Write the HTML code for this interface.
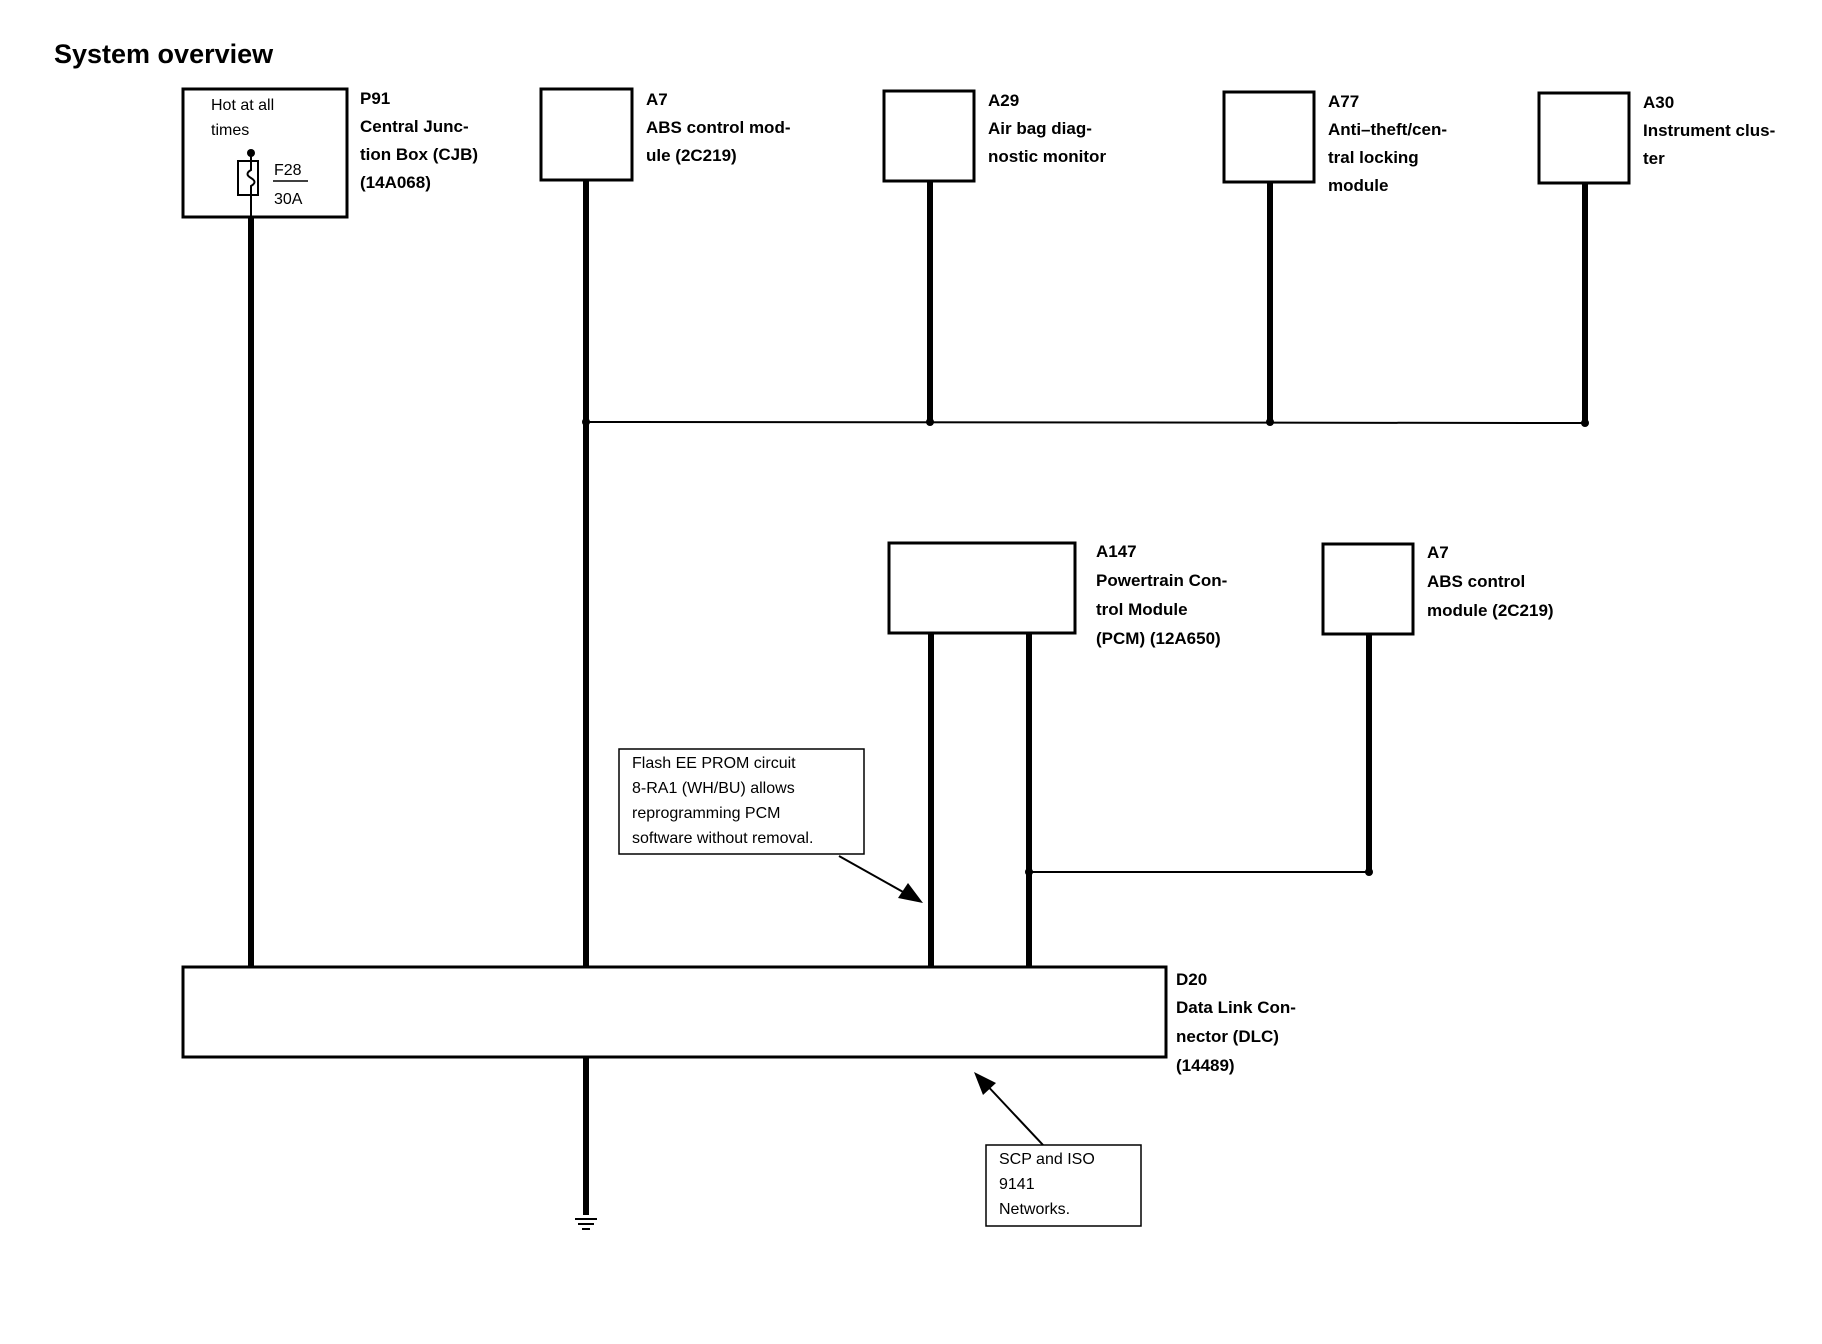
<!DOCTYPE html>
<html><head><meta charset="utf-8"><style>
html,body{margin:0;padding:0;background:#fff;}
svg{display:block;}
text{font-family:"Liberation Sans",Arial,sans-serif;fill:#000;}
.b{font-weight:bold;font-size:17px;}
.n{font-size:16px;}
</style></head><body>
<svg width="1822" height="1344" viewBox="0 0 1822 1344" xmlns="http://www.w3.org/2000/svg">
<text x="54" y="63" style="font-weight:bold;font-size:27px">System overview</text>

<g fill="none" stroke="#000" stroke-width="3">
<rect x="183" y="89" width="164" height="128"/>
<rect x="541" y="89" width="91" height="91"/>
<rect x="884" y="91" width="90" height="90"/>
<rect x="1224" y="92" width="90" height="90"/>
<rect x="1539" y="93" width="90" height="90"/>
<rect x="889" y="543" width="186" height="90"/>
<rect x="1323" y="544" width="90" height="90"/>
<rect x="183" y="967" width="983" height="90"/>
</g>
<g fill="none" stroke="#000" stroke-width="1.5">
<rect x="619" y="749" width="245" height="105"/>
<rect x="986" y="1145" width="155" height="81"/>
</g>

<!-- thick wires -->
<g stroke="#000" stroke-width="6">
<line x1="251" y1="217" x2="251" y2="967"/>
<line x1="586" y1="180" x2="586" y2="967"/>
<line x1="586" y1="1057" x2="586" y2="1215"/>
<line x1="930" y1="181" x2="930" y2="422"/>
<line x1="1270" y1="182" x2="1270" y2="422"/>
<line x1="1585" y1="183" x2="1585" y2="424"/>
<line x1="931" y1="633" x2="931" y2="967"/>
<line x1="1029" y1="633" x2="1029" y2="967"/>
<line x1="1369" y1="634" x2="1369" y2="872"/>
</g>
<g stroke="#000" stroke-width="2">
<line x1="586" y1="422" x2="1585" y2="423"/>
<line x1="1029" y1="872" x2="1369" y2="872"/>
<line x1="839" y1="856" x2="912" y2="897"/>
<line x1="1043" y1="1145" x2="982" y2="1080"/>
<line x1="575" y1="1219" x2="597" y2="1219"/>
<line x1="578" y1="1224" x2="594" y2="1224"/>
<line x1="582" y1="1229" x2="590" y2="1229"/>
</g>
<g fill="#000">
<circle cx="586" cy="422" r="4"/><circle cx="930" cy="422" r="4"/>
<circle cx="1270" cy="422" r="4"/><circle cx="1585" cy="423" r="4"/>
<circle cx="1029" cy="872" r="4"/><circle cx="1369" cy="872" r="4"/>
<circle cx="251" cy="153" r="4"/>
<polygon points="923,903 898,898 908,883"/>
<polygon points="974,1072 996,1083 983,1095"/>
</g>

<!-- fuse -->
<line x1="251" y1="153" x2="251" y2="217" stroke="#000" stroke-width="2"/>
<rect x="238" y="161" width="20" height="34" fill="#fff" stroke="#000" stroke-width="2"/>
<path d="M251 161 L251 170 Q244 174 251 178 Q258 182 251 186 L251 195" fill="none" stroke="#000" stroke-width="2"/>
<line x1="273" y1="181" x2="308" y2="181" stroke="#000" stroke-width="1.5"/>
<text class="n" x="274" y="175">F28</text>
<text class="n" x="274" y="204">30A</text>
<text class="n" x="211" y="110">Hot at all</text>
<text class="n" x="211" y="135">times</text>

<g class="b">
<text class="b" x="360" y="104">P91</text>
<text class="b" x="360" y="132">Central Junc-</text>
<text class="b" x="360" y="160">tion Box (CJB)</text>
<text class="b" x="360" y="188">(14A068)</text>

<text class="b" x="646" y="105">A7</text>
<text class="b" x="646" y="133">ABS control mod-</text>
<text class="b" x="646" y="161">ule (2C219)</text>

<text class="b" x="988" y="106">A29</text>
<text class="b" x="988" y="134">Air bag diag-</text>
<text class="b" x="988" y="162">nostic monitor</text>

<text class="b" x="1328" y="107">A77</text>
<text class="b" x="1328" y="135">Anti–theft/cen-</text>
<text class="b" x="1328" y="163">tral locking</text>
<text class="b" x="1328" y="191">module</text>

<text class="b" x="1643" y="108">A30</text>
<text class="b" x="1643" y="136">Instrument clus-</text>
<text class="b" x="1643" y="164">ter</text>

<text class="b" x="1096" y="557">A147</text>
<text class="b" x="1096" y="586">Powertrain Con-</text>
<text class="b" x="1096" y="615">trol Module</text>
<text class="b" x="1096" y="644">(PCM) (12A650)</text>

<text class="b" x="1427" y="558">A7</text>
<text class="b" x="1427" y="587">ABS control</text>
<text class="b" x="1427" y="616">module (2C219)</text>

<text class="b" x="1176" y="985">D20</text>
<text class="b" x="1176" y="1013">Data Link Con-</text>
<text class="b" x="1176" y="1042">nector (DLC)</text>
<text class="b" x="1176" y="1071">(14489)</text>
</g>

<text class="n" x="632" y="768">Flash EE PROM circuit</text>
<text class="n" x="632" y="793">8-RA1 (WH/BU) allows</text>
<text class="n" x="632" y="818">reprogramming PCM</text>
<text class="n" x="632" y="843">software without removal.</text>

<text class="n" x="999" y="1164">SCP and ISO</text>
<text class="n" x="999" y="1189">9141</text>
<text class="n" x="999" y="1214">Networks.</text>
</svg>
</body></html>
